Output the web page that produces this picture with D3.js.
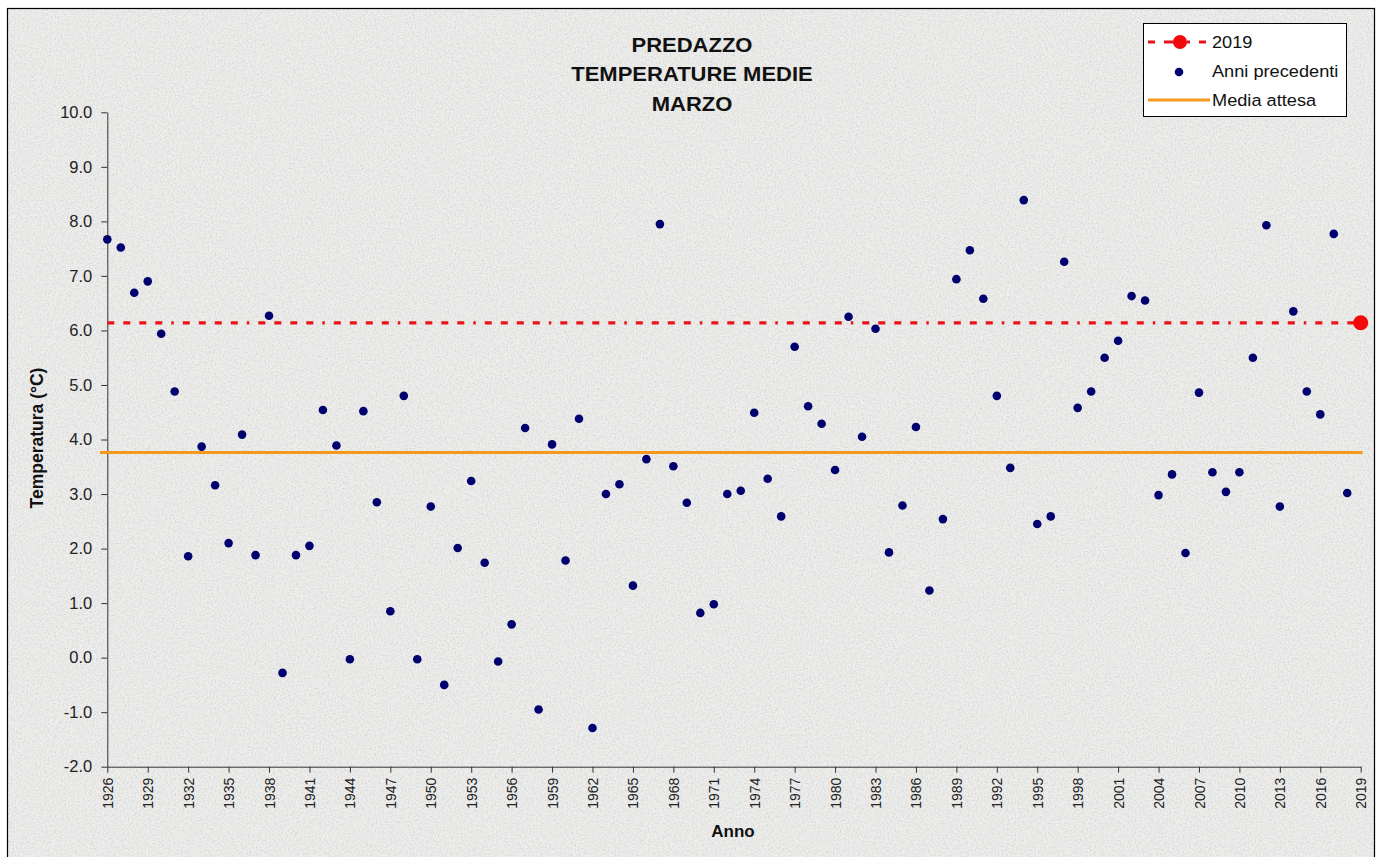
<!DOCTYPE html>
<html><head><meta charset="utf-8">
<script src="https://cdn.jsdelivr.net/npm/d3@7"></script>
<style>body{margin:0;background:#fff;}svg{display:block;font-family:Arial,"Liberation Sans",sans-serif;}</style>
</head><body>
<svg id="chart" width="1385" height="857"></svg>
<script>
const titleLines = ["PREDAZZO", "TEMPERATURE MEDIE", "MARZO"];
const years = d3.range(1926, 2019);
const temps = [7.67,7.52,6.69,6.90,5.94,4.88,1.86,3.87,3.16,2.10,4.09,1.88,6.27,-0.28,1.88,2.05,4.54,3.89,-0.03,4.52,
2.85,0.85,4.80,-0.03,2.77,-0.50,2.01,3.24,1.74,-0.07,0.61,4.21,-0.95,3.91,1.78,4.38,-1.29,3.00,3.18,1.32,
3.64,7.95,3.51,2.84,0.82,0.98,3.00,3.06,4.49,3.28,2.59,5.70,4.61,4.29,3.44,6.25,4.05,6.03,1.93,2.79,
4.23,1.23,2.54,6.94,7.47,6.58,4.80,3.48,8.39,2.45,2.59,7.26,4.58,4.88,5.50,5.81,6.63,6.55,2.98,3.36,
1.92,4.86,3.40,3.04,3.40,5.50,7.93,2.77,6.35,4.88,4.46,7.77,3.02];
const year2019 = 2019;
const value2019 = 6.14;
const mediaAttesa = 3.76;
const yTicks = d3.range(-2, 10.01, 1);
const xTicks = d3.range(1926, 2020, 3);
const legendLabels = ["2019", "Anni precedenti", "Media attesa"];

const FONT = "Arial,'Liberation Sans',sans-serif";
const svg = d3.select("#chart");
const defs = svg.append("defs");
const f = defs.append("filter").attr("id","grain").attr("x",0).attr("y",0).attr("width","100%").attr("height","100%");
f.append("feTurbulence").attr("type","fractalNoise").attr("baseFrequency","0.6").attr("numOctaves",3).attr("seed",4).attr("result","n");
f.append("feColorMatrix").attr("in","n").attr("type","matrix")
 .attr("values","0 0 0 0 0.6  0 0 0 0 0.6  0 0 0 0 0.6  1.4 0 0 0 -0.55").attr("result","c");
f.append("feComposite").attr("in","c").attr("in2","SourceGraphic").attr("operator","in");

svg.append("rect").attr("x",0).attr("y",0).attr("width",1385).attr("height",857).attr("fill","#fff");
svg.append("rect").attr("x",7.5).attr("y",8.5).attr("width",1367).attr("height",860).attr("fill","#eeeeed");
svg.append("rect").attr("x",7.5).attr("y",8.5).attr("width",1367).attr("height",860).attr("fill","#eeeeed").attr("filter","url(#grain)");
svg.append("rect").attr("x",7.5).attr("y",8.5).attr("width",1367).attr("height",860).attr("fill","none").attr("stroke","#000").attr("stroke-width",1.2);

const x = d3.scaleLinear().domain([1926, 2019]).range([107.3, 1360.7]);
const y = d3.scaleLinear().domain([-2, 10]).range([766.7, 112.3]);

const fmt1 = d => d3.format(".1f")(d).replace("\u2212", "-");

// y axis
const ya = svg.append("g").attr("transform","translate(107.3,0)")
  .call(d3.axisLeft(y).tickValues(yTicks).tickFormat(fmt1).tickSize(6).tickSizeOuter(0).tickPadding(9));
ya.select(".domain").attr("stroke","#333");
ya.selectAll(".tick line").attr("stroke","#333");
ya.selectAll("text").attr("font-size",16.5).attr("fill","#222").attr("font-family",FONT);

// x axis
const xa = svg.append("g").attr("transform","translate(0,766.7)")
  .call(d3.axisBottom(x).tickValues(xTicks).tickFormat(d3.format("d")).tickSize(6).tickSizeOuter(0));
xa.select(".domain").attr("stroke","#333");
xa.selectAll(".tick line").attr("stroke","#333");
xa.selectAll("text").attr("font-size",14).attr("fill","#222").attr("font-family",FONT)
  .attr("transform","rotate(-90)").attr("text-anchor","end").attr("x",-11).attr("y",0).attr("dy","0.36em");

// media attesa
svg.append("line").attr("x1",x(1925.45)).attr("x2",x(2019.15)).attr("y1",y(mediaAttesa)).attr("y2",y(mediaAttesa))
  .attr("stroke","#f39a1e").attr("stroke-width",3);

// 2019 dashed line
svg.append("line").attr("x1",x(1926)).attr("x2",x(year2019)).attr("y1",y(value2019)).attr("y2",y(value2019))
  .attr("stroke","#e8141c").attr("stroke-width",3.2).attr("stroke-dasharray","7,9,7,9,7,9,7,9,2.5,9");

// points
svg.append("g").selectAll("circle").data(years.map((yr,i)=>({yr, v:temps[i]}))).join("circle")
  .attr("cx",d=>x(d.yr)).attr("cy",d=>y(d.v)).attr("r",4.3).attr("fill","#00006e");

svg.append("circle").attr("cx",x(year2019)).attr("cy",y(value2019)).attr("r",7.5).attr("fill","#f20a0a");

// title (slightly wide rendering)
svg.append("g").selectAll("g").data(titleLines).join("g")
  .attr("transform",(d,i)=>`translate(692,${51.5+i*29.5}) scale(1.1,1)`)
  .append("text").attr("text-anchor","middle")
  .attr("font-size",20).attr("font-weight","bold").attr("fill","#111").text(d=>d);

// axis titles
svg.append("text").attr("transform","translate(43,438) rotate(-90)").attr("text-anchor","middle")
  .attr("font-size",17.5).attr("font-weight","bold").attr("fill","#111").text("Temperatura (°C)");
svg.append("text").attr("x",733).attr("y",837).attr("text-anchor","middle")
  .attr("font-size",17).attr("font-weight","bold").attr("fill","#111").text("Anno");

// legend
const lg = svg.append("g");
lg.append("rect").attr("x",1143.5).attr("y",23.5).attr("width",203).attr("height",93).attr("fill","#fff").attr("stroke","#000").attr("stroke-width",1);
lg.append("line").attr("x1",1148).attr("x2",1210).attr("y1",42).attr("y2",42).attr("stroke","#e8141c").attr("stroke-width",3.2).attr("stroke-dasharray","7,9,14,9,3,9");
lg.append("circle").attr("cx",1180).attr("cy",42).attr("r",7).attr("fill","#f20a0a");
lg.append("circle").attr("cx",1179).attr("cy",72).attr("r",4.3).attr("fill","#00006e");
lg.append("line").attr("x1",1148).attr("x2",1210).attr("y1",100).attr("y2",100).attr("stroke","#f39a1e").attr("stroke-width",3);
lg.selectAll("g.lt").data(legendLabels).join("g").attr("class","lt")
  .attr("transform",(d,i)=>`translate(1212,${42+i*29}) scale(1.07,1)`)
  .append("text").attr("dy","0.35em").attr("font-size",17).attr("fill","#111").text(d=>d);
</script>
</body></html>
